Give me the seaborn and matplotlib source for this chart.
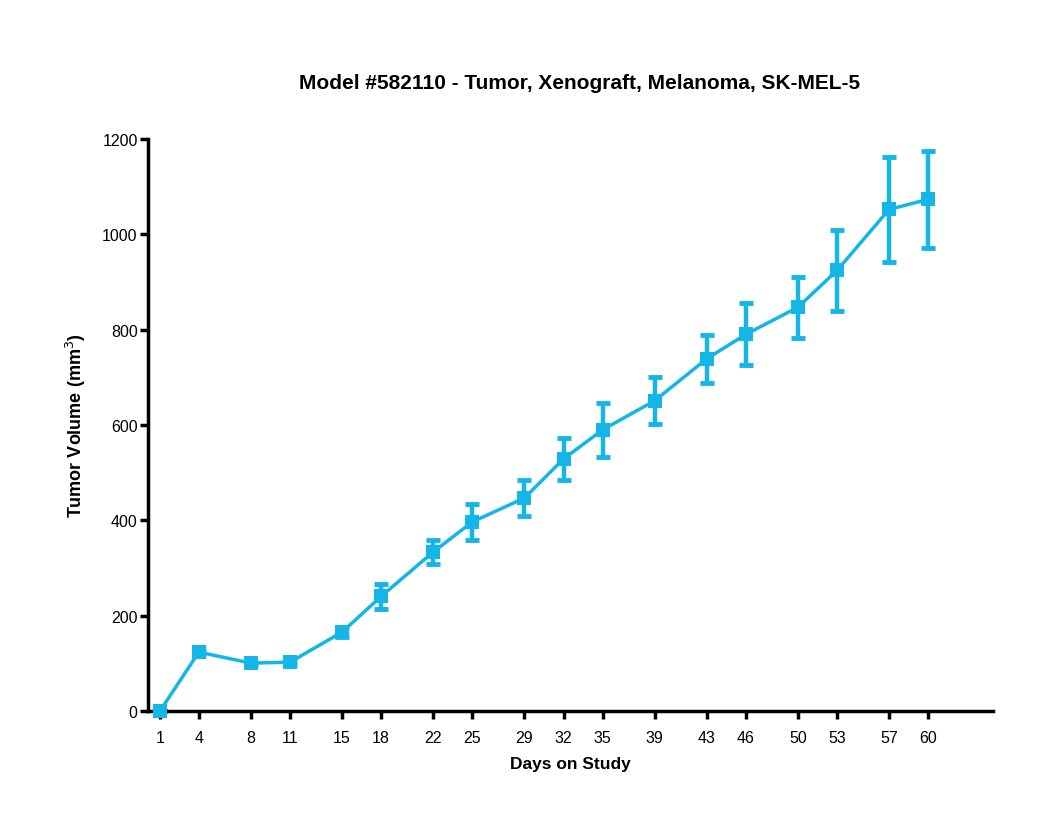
import numpy as np
import pandas as pd
import seaborn as sns
import matplotlib.pyplot as plt

days = [1, 4, 8, 11, 15, 18, 22, 25, 29, 32, 35, 39, 43, 46, 50, 53, 57, 60]
volume = [0, 124, 101, 103, 166, 241, 334, 397, 447, 529, 590, 651, 739, 790, 847, 924, 1052, 1073]
sem = [0, 3, 3, 5, 10, 26, 26, 37, 38, 44, 56, 49, 50, 65, 64, 85, 110, 101]

color = '#13b6e6'
title = "Model #582110 - Tumor, Xenograft, Melanoma, SK-MEL-5"

df = pd.DataFrame({'day': days, 'volume': volume, 'sem': sem})

sns.set_style('ticks')
plt.rcParams['font.family'] = ['Liberation Sans', 'DejaVu Sans']
plt.rcParams['text.color'] = 'black'
plt.rcParams['axes.labelcolor'] = 'black'
plt.rcParams['xtick.color'] = 'black'
plt.rcParams['ytick.color'] = 'black'
plt.rcParams['axes.edgecolor'] = 'black'

fig = plt.figure(figsize=(10.5, 8.37), dpi=100)
ax = fig.add_axes([0.141, 0.149, 0.805, 0.684])

ax.errorbar(df['day'], df['volume'], yerr=df['sem'], fmt='none', ecolor=color,
            elinewidth=3.2, capsize=4.8, capthick=3.5, clip_on=False, zorder=2)
sns.lineplot(data=df, x='day', y='volume', ax=ax, color=color, linewidth=2.5,
             marker='s', markersize=9.8, markeredgewidth=0, clip_on=False, zorder=3)

ax.set_xlim(0.1, 65)
ax.set_ylim(0, 1200)
ax.set_xticks(days)
ax.set_yticks(range(0, 1201, 200))
ax.tick_params(axis='both', width=2.5, length=5.5, labelsize=11.5, colors='black')
ax.tick_params(axis='x', pad=8)
ax.tick_params(axis='y', pad=2)
for s in ['left', 'bottom']:
    ax.spines[s].set_linewidth(2.5)
sns.despine(ax=ax)

ax.set_xlabel("Days on Study", fontsize=12.5, fontweight='bold', labelpad=8)
ax.set_ylabel("Tumor Volume (mm$^3$)", fontsize=13, fontweight='bold', labelpad=10)
fig.text(0.552, 0.9, title, ha='center', va='center', fontsize=15, fontweight='bold')

fig.savefig('out.png', dpi=100)
